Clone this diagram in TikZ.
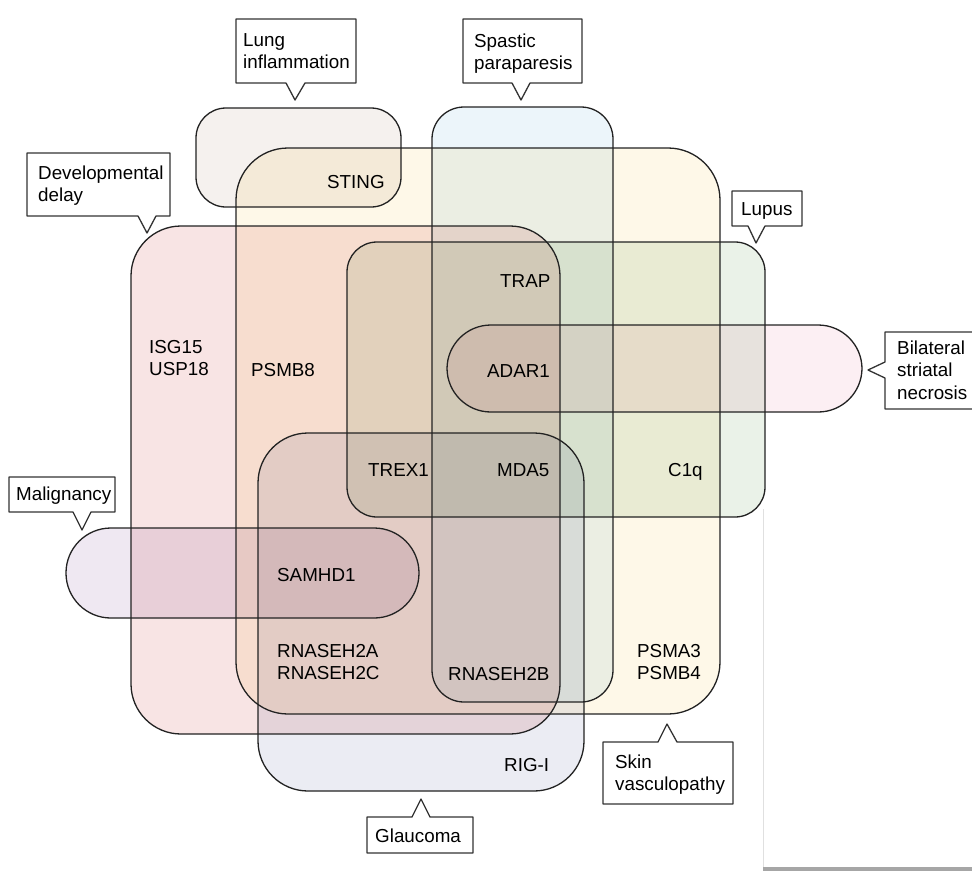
\documentclass[tikz,border=0pt]{standalone}
\usepackage{fontspec}
\setmainfont{Liberation Sans}
\definecolor{cLung}{HTML}{F5F1EE}
\definecolor{cSpas}{HTML}{ECF5FA}
\definecolor{cSkin}{HTML}{FEF8E8}
\definecolor{cDev}{HTML}{F8E4E4}
\definecolor{cLupus}{HTML}{EAF2E8}
\definecolor{cBsn}{HTML}{FCEFF3}
\definecolor{cGlau}{HTML}{EBECF3}
\definecolor{cMal}{HTML}{EFE8F2}
\definecolor{cLine}{HTML}{222222}
\begin{document}
\begin{tikzpicture}[x=1pt,y=-1pt,line join=round,
  outl/.style={draw=cLine,line width=1.3pt},
  callout/.style={draw=black!80,fill=white,line width=1.3pt},
  lbl/.style={anchor=base west,inner sep=0pt,font=\fontsize{18.8}{22.5}\selectfont}]
\useasboundingbox (0,0) rectangle (972,871);
\fill[white] (0,0) rectangle (972,871);
% fills
\begin{scope}[blend group=multiply]
  \fill[cLung,rounded corners=30] (196,108) rectangle (401,207);
  \fill[cSpas,rounded corners=32] (432,107) rectangle (613,702);
  \fill[cSkin,rounded corners=52] (236,148) rectangle (720,714);
  \fill[cDev,rounded corners=50] (131,226) rectangle (560,734);
  \fill[cLupus,rounded corners=30] (347,242) rectangle (765,517);
  \fill[cBsn,rounded corners=43.9] (447,325) rectangle (862,412);
  \fill[cGlau,rounded corners=50] (258,433) rectangle (584,791);
  \fill[cMal,rounded corners=44.9] (66,528) rectangle (419,618);
\end{scope}
% outlines
\draw[outl,rounded corners=30] (196,108) rectangle (401,207);
\draw[outl,rounded corners=32] (432,107) rectangle (613,702);
\draw[outl,rounded corners=52] (236,148) rectangle (720,714);
\draw[outl,rounded corners=50] (131,226) rectangle (560,734);
\draw[outl,rounded corners=30] (347,242) rectangle (765,517);
\draw[outl,rounded corners=43.9] (447,325) rectangle (862,412);
\draw[outl,rounded corners=50] (258,433) rectangle (584,791);
\draw[outl,rounded corners=44.9] (66,528) rectangle (419,618);
% page edge artifact
\draw[black!12,line width=0.8pt] (763.5,509) -- (763.5,871);
\fill[black!35] (763,867) rectangle (972,871);
% callouts
\draw[callout] (236,19) -- (356,19) -- (356,83) -- (305,83) -- (295,100) -- (286,83) -- (236,83) -- cycle;
\draw[callout] (463,19) -- (582,19) -- (582,83) -- (530,83) -- (521,100) -- (512,83) -- (463,83) -- cycle;
\draw[callout] (27,153) -- (170,153) -- (170,216) -- (156,216) -- (147,233) -- (138,216) -- (27,216) -- cycle;
\draw[callout] (732,191) -- (802,191) -- (802,226) -- (765,226) -- (756,243) -- (748,226) -- (732,226) -- cycle;
\draw[callout] (885,332) -- (985,332) -- (985,409) -- (885,409) -- (885,378) -- (868,370) -- (885,362) -- cycle;
\draw[callout] (9,477) -- (115,477) -- (115,512) -- (91,512) -- (82,530) -- (73,512) -- (9,512) -- cycle;
\draw[callout] (603,742) -- (658,742) -- (667,724) -- (677,742) -- (733,742) -- (733,804) -- (603,804) -- cycle;
\draw[callout] (367,817) -- (412,817) -- (421,799) -- (430,817) -- (473,817) -- (473,853) -- (367,853) -- cycle;
% callout texts
\node[lbl] (tLung) at (243,46) {\begin{tabular}[t]{@{}l@{}}Lung\\inflammation\end{tabular}};
\node[lbl] (tSpas) at (474,47) {\begin{tabular}[t]{@{}l@{}}Spastic\\paraparesis\end{tabular}};
\node[lbl] (tDev) at (38,179) {\begin{tabular}[t]{@{}l@{}}Developmental\\delay\end{tabular}};
\node[lbl] (tLupus) at (741,215) {Lupus};
\node[lbl] (tBsn) at (897,354) {\begin{tabular}[t]{@{}l@{}}Bilateral\\striatal\\necrosis\end{tabular}};
\node[lbl] (tMal) at (16,500) {Malignancy};
\node[lbl] (tSkin) at (615,768) {\begin{tabular}[t]{@{}l@{}}Skin\\vasculopathy\end{tabular}};
\node[lbl] (tGlau) at (375,842) {Glaucoma};
% gene labels
\node[lbl] (gSTING) at (327,188) {STING};
\node[lbl] (gTRAP) at (500,287) {TRAP};
\node[lbl] (gISG) at (149,353) {\begin{tabular}[t]{@{}l@{}}ISG15\\USP18\end{tabular}};
\node[lbl] (gPSMB8) at (251,376) {PSMB8};
\node[lbl] (gADAR) at (487,377) {ADAR1};
\node[lbl] (gTREX) at (368,476) {TREX1};
\node[lbl] (gMDA) at (497,476) {MDA5};
\node[lbl] (gC1q) at (668,476) {C1q};
\node[lbl] (gSAM) at (277,581) {SAMHD1};
\node[lbl] (gRNA) at (277,657) {\begin{tabular}[t]{@{}l@{}}RNASEH2A\\RNASEH2C\end{tabular}};
\node[lbl] (gRNB) at (448,680) {RNASEH2B};
\node[lbl] (gPSMA) at (637,657) {\begin{tabular}[t]{@{}l@{}}PSMA3\\PSMB4\end{tabular}};
\node[lbl] (gRIG) at (504,771) {RIG-I};
\end{tikzpicture}
\end{document}
